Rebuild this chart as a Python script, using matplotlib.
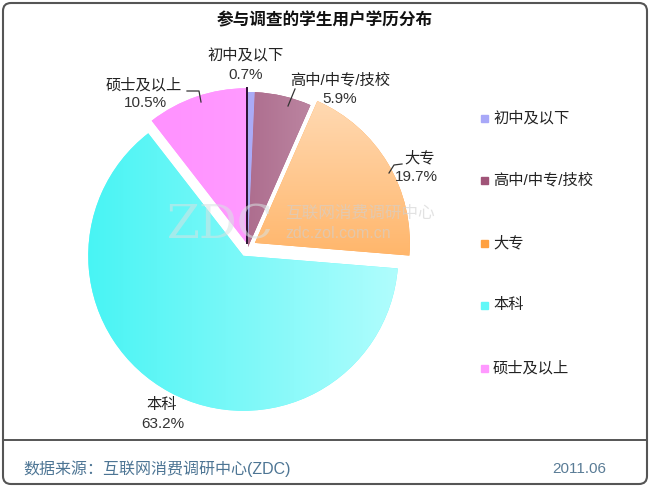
import numpy as np
import matplotlib.pyplot as plt
from matplotlib.colors import LinearSegmentedColormap
from matplotlib.patches import FancyBboxPatch, Rectangle

plt.rcParams['font.family'] = ['Liberation Sans', 'Noto Sans CJK SC', 'DejaVu Sans']

# data
categories = ['初中及以下', '高中/中专/技校', '大专', '本科', '硕士及以上']
shares = [0.7, 5.9, 19.7, 63.2, 10.5]
title = '参与调查的学生用户学历分布'
source = '数据来源：互联网消费调研中心(ZDC)'
date = '2011.06'

# gradient (from, to, direction) per slice
grads = [('#9c9cf4', '#b8b8fa', 'h'),
         ('#8c3563', '#cfa6ba', 'h'),
         ('#ffdcb8', '#ff962a', 'v'),
         ('#48f4f4', '#b0fdfd', 'h'),
         ('#ff8cff', '#ffa8ff', 'h')]
legend_colors = ['#a8a8f8', '#a05478', '#ffa040', '#60f8f8', '#ff99ff']
explode = [0, 0, 8, 10, 4]

W, H = 650, 487
fig = plt.figure(figsize=(W / 100, H / 100), dpi=100)
ax = fig.add_axes([0, 0, 1, 1])


def Y(y):
    return H - y


cx, cy, R = 248, Y(247), 155
wedges, _ = ax.pie(shares, explode=explode, startangle=90, counterclock=False,
                   center=(cx, cy), radius=R, colors=legend_colors,
                   wedgeprops=dict(linewidth=0))

for w, (c1, c2, d) in zip(wedges, grads):
    (x0, y0), r = w.center, w.r
    cmap = LinearSegmentedColormap.from_list('g', [c1, c2])
    g = np.linspace(0, 1, 256)
    arr = g[None, :] if d == 'h' else g[:, None]
    im = ax.imshow(arr, cmap=cmap, extent=(x0 - r, x0 + r, y0 - r, y0 + r),
                   aspect='auto', zorder=w.get_zorder() + 0.1, origin='upper')
    im.set_clip_path(w)

# dark edge between 硕士 and 初中
w = wedges[4]
t = np.deg2rad(w.theta1)
ax.plot([w.center[0], w.center[0] + w.r * np.cos(t)],
        [w.center[1], w.center[1] + w.r * np.sin(t)],
        color='#2a1030', lw=1.4, zorder=5)

ax.set_xlim(0, W)
ax.set_ylim(0, H)
ax.axis('off')

# watermark
ax.text(220, Y(226), 'ZDC', fontsize=34, color='#d8e2e2', alpha=0.55,
        ha='center', va='center', family='DejaVu Serif', zorder=6)
ax.text(285, Y(213), '互联网消费调研中心', fontsize=12, color='#d0d0d0',
        alpha=0.6, ha='left', va='center', family='Noto Sans CJK SC', zorder=6)
ax.text(285, Y(234), 'zdc.zol.com.cn', fontsize=11.5, color='#d0d0d0',
        alpha=0.6, ha='left', va='center', zorder=6)

# slice labels
label_pos = [(246, 55, 246, 75), (340, 80, 340, 99), (420, 158, 416, 177),
             (162, 405, 163, 424), (144, 85, 145, 103)]
for name, v, (lx, ly, px, py) in zip(categories, shares, label_pos):
    ax.text(lx, Y(ly), name, fontsize=11, ha='center', va='center', color='#222222')
    ax.text(px, Y(py), f'{v}%', fontsize=11, ha='center', va='center', color='#333333')

# leader lines
ax.plot([187, 199, 201], [Y(91), Y(91), Y(102)], color='#333333', lw=0.9)
ax.plot([295, 288], [Y(89), Y(106)], color='#333333', lw=0.9)
ax.plot([402, 394, 389], [Y(164), Y(165), Y(173)], color='#333333', lw=0.9)

# legend
leg_y = [118, 180, 243, 305, 368]
for name, c, ly in zip(categories, legend_colors, leg_y):
    ax.add_patch(Rectangle((481, Y(ly) - 3.5), 7, 7, color=c))
    ax.text(493, Y(ly), name, fontsize=11, ha='left', va='center', color='#222222')

# title
ax.text(W / 2, Y(20), title, fontsize=12, fontweight='bold', ha='center',
        va='center', color='#111111')

# frame and footer
ax.add_patch(FancyBboxPatch((3, 3), W - 6, H - 6,
                            boxstyle='round,pad=0,rounding_size=8',
                            fill=False, ec='#555555', lw=1.5, zorder=10))
ax.plot([3, W - 3], [Y(440), Y(440)], color='#555555', lw=1.4)
ax.text(23, Y(469), source, fontsize=11.5, color='#4d7594', ha='left', va='center')
ax.text(606, Y(469), date, fontsize=11, color='#5a7c96', ha='right', va='center')

fig.savefig('out.png', dpi=100)
